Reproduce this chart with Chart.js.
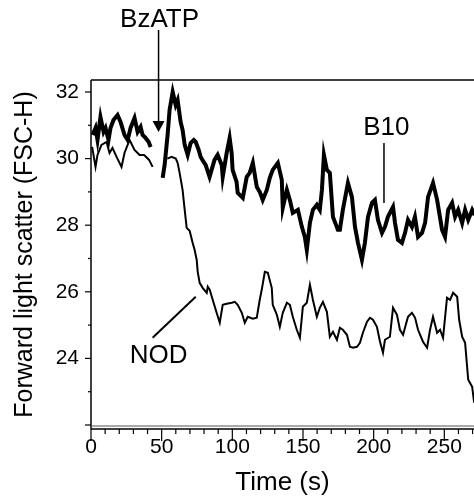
<!DOCTYPE html>
<html lang="en">
<head>
  <meta charset="UTF-8">
  <title>Forward light scatter</title>
  <style>
    body { margin: 0; background: #fff; }
    canvas { display: block; }
  </style>
</head>
<body>
  <canvas id="myChart" width="474" height="502"></canvas>
</body>
<script src="https://cdn.jsdelivr.net/npm/chart.js@4.4.0/dist/chart.umd.min.js"></script>
<script>
// B10 trace (s, FSC-H), null = gap while BzATP is added
const b10Time = [1.1, 3.2, 4.6, 6.7, 8.9, 10.3, 12.4, 13.8, 15.9, 18.8, 20.9, 23.7, 25.9, 28.0, 30.8, 33.0, 35.1, 36.5, 38.6, 40.8, 42.2,
  46,
  50.7, 52.1, 54.2, 55.6, 57.8, 59.9, 61.3, 63.4, 64.8, 66.3, 68.4, 70.5, 72.7, 74.1, 76.2, 77.6, 79.7, 81.1, 83.9, 87.4, 89.6,
  92.5, 93.2, 96.0, 98.1, 99.5, 100.2, 103.0, 103.8, 107.4, 110.2, 112.3, 114.5, 117.3, 119.4, 121.5, 124.4, 126.5, 128.6,
  132.2, 135.0, 135.7, 138.6, 140.7, 142.8, 146.4, 149.2, 151.3, 152.7, 154.9, 157.0, 159.8, 161.9, 163.4, 164.8, 166.9,
  169.0, 171.2, 174.7, 176.1, 178.2, 181.8, 184.6, 186.8, 188.9, 191.7, 193.8, 196.0, 198.8, 200.9, 203.0, 205.9, 208.0,
  210.1, 213.7, 215.1, 217.2, 220.0, 222.2, 224.3, 227.1, 229.2, 231.4, 234.2, 236.4, 238.5, 242.0, 244.9, 248.4, 250.5,
  252.7, 255.5, 257.6, 259.8, 262.6, 264.7, 266.9, 269.7, 271.5];
const b10Value = [30.71, 30.92, 30.56, 31.25, 30.8, 30.92, 30.56, 30.92, 31.16, 31.31, 31.1, 30.71, 30.56, 30.92, 31.22, 30.8, 30.95, 30.71, 30.62, 30.5, 30.35,
  null,
  29.42, 29.81, 30.71, 31.46, 32.0, 31.61, 31.76, 31.1, 30.86, 30.41, 30.11, 30.47, 30.56, 30.5, 30.26, 30.05, 29.9, 29.81, 29.45, 29.96, 30.11,
  29.81, 29.45, 30.17, 30.62, 30.17, 29.66, 29.3, 28.97, 28.82, 29.45, 29.57, 29.87, 29.15, 29.0, 28.76, 29.06, 29.42, 29.66,
  29.87, 29.36, 28.52, 29.06, 28.76, 28.37, 28.46, 27.95, 27.65, 27.26, 28.07, 28.46, 28.61, 28.46, 29.06, 30.11, 29.66,
  29.57, 28.25, 27.86, 27.86, 28.46, 29.27, 28.85, 27.95, 27.47, 26.96, 27.47, 28.25, 28.67, 28.76, 28.16, 27.77, 27.95,
  28.25, 28.55, 28.07, 27.56, 27.47, 27.77, 28.16, 27.95, 28.25, 27.65, 27.77, 28.07, 28.85, 29.27, 28.76, 27.86, 27.65,
  28.46, 28.67, 28.25, 28.46, 28.07, 28.46, 28.16, 28.46, 28.3];

// NOD trace
const nodTime = [0.8, 3.2, 4.6, 7.4, 11.0, 13.1, 15.2, 18.1, 21.6, 23.7, 27.3, 30.8, 34.4, 37.6, 41.1, 43.6,
  48,
  54.0, 57.0, 60.0, 61.3, 62.7, 64.8, 66.3, 67.7, 69.8, 71.9, 73.3, 74.8, 75.5, 76.9, 79.0, 81.9, 82.6, 84.0, 86.1, 88.9,
  91.1, 93.2, 96.0, 99.6, 101.7, 103.8, 106.7, 108.8, 110.9, 114.5, 117.3, 119.4, 120.8, 123.0, 125.1, 127.9, 128.6,
  131.5, 133.6, 135.7, 138.6, 140.7, 142.8, 145.6, 147.8, 149.9, 152.7, 154.9, 157.0, 159.8, 161.9, 164.1, 166.9,
  169.0, 171.2, 174.0, 176.1, 178.2, 181.1, 183.2, 185.3, 188.2, 190.3, 192.4, 195.3, 197.4, 199.5, 202.3, 204.5,
  206.6, 208.0, 211.5, 213.7, 216.5, 218.6, 220.8, 224.3, 227.1, 229.3, 231.4, 234.9, 237.8, 239.9, 242.0, 244.9,
  247.0, 249.1, 251.9, 254.1, 256.2, 259.1, 260.5, 262.6, 264.7, 266.9, 269.7, 271.1];
const nodValue = [30.35, 29.75, 30.11, 30.41, 30.5, 30.17, 30.32, 30.05, 29.75, 30.17, 30.56, 30.26, 30.11, 30.11, 29.96, 29.75,
  null,
  30.0, 30.05, 30.0, 29.87, 29.57, 29.06, 28.46, 27.92, 27.83, 27.47, 27.26, 26.96, 26.6, 26.27, 26.12, 25.97, 26.15, 26.06, 25.76, 25.37,
  25.07, 25.61, 25.64, 25.67, 25.7, 25.61, 25.37, 25.07, 25.25, 25.19, 25.22, 25.76, 26.06, 26.6, 26.57, 26.12, 25.61,
  25.31, 24.95, 25.37, 25.67, 25.61, 25.25, 24.86, 24.62, 25.55, 25.67, 26.21, 25.76, 25.25, 25.52, 25.7, 25.4,
  24.65, 24.8, 24.56, 24.92, 24.86, 24.71, 24.35, 24.32, 24.35, 24.47, 24.77, 25.1, 25.22, 25.16, 24.95, 24.5,
  24.17, 24.56, 24.65, 25.52, 25.31, 24.86, 24.71, 25.25, 25.37, 25.22, 24.86, 24.5, 24.32, 24.86, 25.25, 24.77,
  24.86, 24.62, 25.82, 25.76, 25.97, 25.85, 25.16, 24.65, 24.47, 23.36, 23.15, 22.67];

const xTicks = [0, 50, 100, 150, 200, 250];
const yTicks = [24, 26, 28, 30, 32];

const FONT = "'Liberation Sans', Arial, Helvetica, sans-serif";
Chart.defaults.font.family = FONT;
Chart.defaults.color = '#000';

const toPoints = (ts, vs) => ts.map((t, i) => ({ x: t, y: vs[i] }));

// frame, minor ticks and the text labels of the figure
const overlay = {
  id: 'overlay',
  afterDatasetsDraw(chart) {
    const { ctx, chartArea: a, scales: { x, y } } = chart;
    const line = (x1, y1, x2, y2) => { ctx.beginPath(); ctx.moveTo(x1, y1); ctx.lineTo(x2, y2); ctx.stroke(); };
    ctx.save();
    ctx.strokeStyle = '#000';
    ctx.fillStyle = '#000';
    ctx.lineWidth = 1.5;
    line(a.left, a.top, a.right, a.top);
    line(a.left, a.top, a.left, a.bottom);
    line(a.left, a.bottom, a.right, a.bottom);
    ctx.lineWidth = 1;
    ctx.strokeStyle = '#555';
    line(a.left, a.bottom - 3, a.right, a.bottom - 3);
    ctx.strokeStyle = '#000';
    ctx.lineWidth = 1.2;
    for (let t = 0; t <= x.max; t += 10) {
      const px = x.getPixelForValue(t);
      line(px, a.bottom, px, a.bottom + (t % 50 === 0 ? 12 : 5));
    }
    for (let v = 22; v <= 32; v++) {
      const py = y.getPixelForValue(v);
      line(a.left - (v % 2 === 0 ? 6 : 3), py, a.left, py);
    }

    ctx.font = '26px ' + FONT;
    ctx.textAlign = 'center';
    ctx.textBaseline = 'middle';
    ctx.lineWidth = 1.5;

    // BzATP arrow
    const ax = x.getPixelForValue(47.8);
    const tip = y.getPixelForValue(30.8);
    ctx.fillText('BzATP', ax + 1, 20);
    line(ax, 30, ax, tip - 8);
    ctx.beginPath();
    ctx.moveTo(ax - 6, tip - 11);
    ctx.lineTo(ax + 6, tip - 11);
    ctx.lineTo(ax, tip);
    ctx.closePath();
    ctx.fill();

    // B10 label
    ctx.fillText('B10', x.getPixelForValue(209), y.getPixelForValue(30.92));
    const bx = x.getPixelForValue(207.3);
    line(bx, y.getPixelForValue(30.47), bx, y.getPixelForValue(28.67));

    // NOD label
    ctx.fillText('NOD', x.getPixelForValue(47.8), y.getPixelForValue(24.08));
    ctx.lineWidth = 2;
    line(x.getPixelForValue(43.6), y.getPixelForValue(24.62), x.getPixelForValue(74.1), y.getPixelForValue(25.85));
    ctx.restore();
  }
};

const ctx = document.getElementById('myChart').getContext('2d');
const chart = new Chart(ctx, {
  type: 'line',
  data: {
    datasets: [{
      label: 'B10',
      data: toPoints(b10Time, b10Value),
      borderColor: '#000',
      borderWidth: 4,
      pointRadius: 0,
      tension: 0,
      spanGaps: false
    }, {
      label: 'NOD',
      data: toPoints(nodTime, nodValue),
      borderColor: '#000',
      borderWidth: 2,
      pointRadius: 0,
      tension: 0,
      spanGaps: false
    }]
  },
  options: {
    responsive: false,
    animation: false,
    layout: { padding: { top: 80, left: 0, right: 0, bottom: 0 } },
    plugins: { legend: { display: false }, tooltip: { enabled: false } },
    scales: {
      x: {
        type: 'linear',
        min: 0,
        max: 271,
        afterBuildTicks: s => { s.ticks = xTicks.map(v => ({ value: v })); },
        afterFit: s => { s.height = 73; },
        grid: { display: false, drawTicks: false },
        border: { display: false },
        ticks: { font: { size: 21 }, padding: 6, maxRotation: 0 },
        title: { display: true, text: 'Time (s)', font: { size: 26 }, padding: { top: 0, bottom: 4 } }
      },
      y: {
        min: 21.88,
        max: 32.36,
        afterBuildTicks: s => { s.ticks = yTicks.map(v => ({ value: v })); },
        afterFit: s => { s.width = 91; },
        grid: { display: false, drawTicks: false },
        border: { display: false },
        ticks: { font: { size: 21 }, padding: 12 },
        title: { display: true, text: 'Forward light scatter (FSC-H)', font: { size: 25 }, padding: { top: 10, bottom: 0 } }
      }
    }
  },
  plugins: [overlay]
});
</script>
</html>
